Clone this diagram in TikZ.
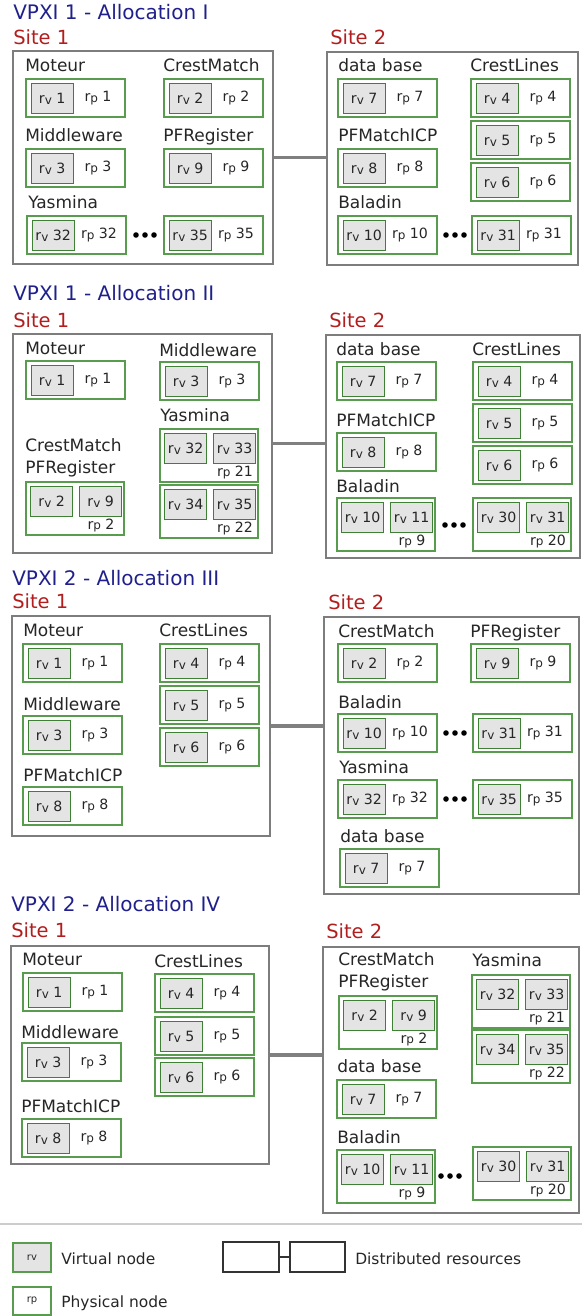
\documentclass[tikz,border=0pt]{standalone}
\usepackage{fontspec}
\setmainfont{DejaVu Sans}
\usetikzlibrary{fit}
\definecolor{ttlblue}{RGB}{32,32,140}
\definecolor{sitered}{RGB}{178,30,30}
\definecolor{labcol}{RGB}{38,38,38}
\definecolor{boxgray}{RGB}{125,125,125}
\definecolor{grpgreen}{RGB}{88,156,78}
\definecolor{rvgreen}{RGB}{62,128,52}
\definecolor{rvfill}{RGB}{228,228,228}
\definecolor{linkgray}{RGB}{128,128,128}
\newcommand\rvt{r\raisebox{-0.2ex}{\fontsize{9}{10}\selectfont v}}
\newcommand\rpt{r\raisebox{-0.1ex}{\fontsize{9}{10}\selectfont p}}
\tikzset{
  ttl/.style={anchor=base west, inner sep=0, text=ttlblue, font=\fontsize{15}{17}\selectfont},
  sitelab/.style={anchor=base west, inner sep=0, text=sitered, font=\fontsize{14.6}{17}\selectfont},
  lab/.style={anchor=base west, inner sep=0, text=labcol, font=\fontsize{12.75}{15}\selectfont},
  sitebox/.style={draw=boxgray, line width=1.1pt, inner sep=0, fill=white},
  grp/.style={draw=grpgreen, line width=1.2pt, inner sep=0, fill=white},
  rvbox/.style={draw=rvgreen, fill=rvfill, line width=1pt, anchor=north west, inner sep=0,
     minimum width=31.5pt, minimum height=22.5pt, text=labcol, font=\fontsize{10.6}{12}\selectfont},
  rptxt/.style={inner sep=0, text=labcol, font=\fontsize{10.6}{12}\selectfont},
  link/.style={draw=linkgray, line width=2.5pt},
  legtxt/.style={anchor=base west, inner sep=0, text=labcol, font=\fontsize{11.6}{14}\selectfont},
}
% #1 name, #2 x, #3 y, #4 rv, #5 rp
\newcommand\pairbox[5]{%
  \node[grp, fit={(#2,#3) (#2+99,#3+38)}] (#1) {};
  \node[rvbox] (#1v) at (#2+4.5,#3+4) {\rvt\ #4};
  \node[rptxt] (#1p) at (#2+72,#3+19) {\rpt\ #5};
}
% #1 name, #2 x, #3 y, #4 rvA, #5 rvB, #6 rp
\newcommand\dblbox[6]{%
  \node[grp, fit={(#2,#3) (#2+98,#3+53)}] (#1) {};
  \node[rvbox] (#1a) at (#2+4,#3+4) {\rvt\ #4};
  \node[rvbox] (#1b) at (#2+53,#3+4) {\rvt\ #5};
  \node[rptxt] (#1p) at (#2+75,#3+43.5) {\rpt\ #6};
}
\newcommand\tridots[2]{%
  \fill[black] (#1-9,#2) circle[radius=2.1pt];
  \fill[black] (#1,#2) circle[radius=2.1pt];
  \fill[black] (#1+9,#2) circle[radius=2.1pt];
}
\begin{document}
\begin{tikzpicture}[x=0.75pt,y=-0.75pt]
\useasboundingbox (0,0) rectangle (582,1316);
% ================= Panel I =================
\node[ttl] (t1) at (13,20) {VPXI 1 - Allocation I};
\node[sitelab] (t1s1) at (13,45) {Site 1};
\node[sitelab] (t1s2) at (330,45) {Site 2};
\node[sitebox, fit={(13,51) (273,264)}] (a1) {};
\node[sitebox, fit={(327,52) (578,265)}] (a2) {};
\draw[link] (a1.east) -- (a1.east -| a2.west);
\node[lab] (a1l1) at (25,72) {Moteur};
\node[lab] (a1l2) at (163,72) {CrestMatch};
\node[lab] (a1l3) at (25,142) {Middleware};
\node[lab] (a1l4) at (163,142) {PFRegister};
\node[lab] (a1l5) at (28,209) {Yasmina};
\pairbox{a1p1}{26}{79}{1}{1}
\pairbox{a1p2}{164}{79}{2}{2}
\pairbox{a1p3}{26}{149}{3}{3}
\pairbox{a1p4}{164}{149}{9}{9}
\pairbox{a1p5}{27}{216}{32}{32}
\pairbox{a1p6}{164}{216}{35}{35}
\tridots{145}{235}
\node[lab] (a2l1) at (338,72) {data base};
\node[lab] (a2l2) at (470,72) {CrestLines};
\node[lab] (a2l3) at (338,142) {PFMatchICP};
\node[lab] (a2l4) at (338,209) {Baladin};
\pairbox{a2p1}{338}{79}{7}{7}
\pairbox{a2p2}{471}{79}{4}{4}
\pairbox{a2p3}{471}{121}{5}{5}
\pairbox{a2p4}{471}{163}{6}{6}
\pairbox{a2p5}{338}{149}{8}{8}
\pairbox{a2p6}{338}{216}{10}{10}
\pairbox{a2p7}{472}{216}{31}{31}
\tridots{455}{235}
% ================= Panel II =================
\node[ttl] (t2) at (13,300) {VPXI 1 - Allocation II};
\node[sitelab] (t2s1) at (13,327) {Site 1};
\node[sitelab] (t2s2) at (329,327) {Site 2};
\node[sitebox, fit={(13,334) (272,553)}] (b1) {};
\node[sitebox, fit={(326,335) (580,558)}] (b2) {};
\draw[link] (b1.east) -- (b1.east -| b2.west);
\node[lab] (b1l1) at (25,354) {Moteur};
\node[lab] (b1l2) at (159,356) {Middleware};
\node[lab] (b1l3) at (160,421) {Yasmina};
\node[lab] (b1l4) at (25,451) {CrestMatch};
\node[lab] (b1l5) at (25,473) {PFRegister};
\pairbox{b1p1}{26}{361}{1}{1}
\pairbox{b1p2}{160}{362}{3}{3}
\dblbox{b1d1}{160}{429}{32}{33}{21}
\dblbox{b1d2}{160}{485}{34}{35}{22}
\dblbox{b1d3}{26}{482}{2}{9}{2}
\node[lab] (b2l1) at (336,355) {data base};
\node[lab] (b2l2) at (472,355) {CrestLines};
\node[lab] (b2l3) at (336,426) {PFMatchICP};
\node[lab] (b2l4) at (336,492) {Baladin};
\pairbox{b2p1}{337}{362}{7}{7}
\pairbox{b2p2}{473}{362}{4}{4}
\pairbox{b2p3}{473}{404}{5}{5}
\pairbox{b2p4}{473}{446}{6}{6}
\pairbox{b2p5}{337}{433}{8}{8}
\dblbox{b2d1}{337}{498}{10}{11}{9}
\dblbox{b2d2}{473}{498}{30}{31}{20}
\tridots{454}{525}
% ================= Panel III =================
\node[ttl] (t3) at (12,585) {VPXI 2 - Allocation III};
\node[sitelab] (t3s1) at (12,608) {Site 1};
\node[sitelab] (t3s2) at (328,609) {Site 2};
\node[sitebox, fit={(12,616) (270,836)}] (c1) {};
\node[sitebox, fit={(324,617) (579,894)}] (c2) {};
\draw[link] (c1.east) -- (c1.east -| c2.west);
\node[lab] (c1l1) at (23,636) {Moteur};
\node[lab] (c1l2) at (159,636) {CrestLines};
\node[lab] (c1l3) at (23,710) {Middleware};
\node[lab] (c1l4) at (23,781) {PFMatchICP};
\pairbox{c1p1}{23}{644}{1}{1}
\pairbox{c1p2}{23}{716}{3}{3}
\pairbox{c1p3}{23}{787}{8}{8}
\pairbox{c1p4}{160}{644}{4}{4}
\pairbox{c1p5}{160}{686}{5}{5}
\pairbox{c1p6}{160}{728}{6}{6}
\node[lab] (c2l1) at (338,637) {CrestMatch};
\node[lab] (c2l2) at (470,637) {PFRegister};
\node[lab] (c2l3) at (338,708) {Baladin};
\node[lab] (c2l4) at (339,773) {Yasmina};
\node[lab] (c2l5) at (340,842) {data base};
\pairbox{c2p1}{338}{644}{2}{2}
\pairbox{c2p2}{471}{644}{9}{9}
\pairbox{c2p3}{338}{714}{10}{10}
\pairbox{c2p4}{473}{714}{31}{31}
\tridots{455}{733}
\pairbox{c2p5}{338}{780}{32}{32}
\pairbox{c2p6}{473}{780}{35}{35}
\tridots{455}{799}
\pairbox{c2p7}{340}{849}{7}{7}
% ================= Panel IV =================
\node[ttl] (t4) at (11,911) {VPXI 2 - Allocation IV};
\node[sitelab] (t4s1) at (11,937) {Site 1};
\node[sitelab] (t4s2) at (326,938) {Site 2};
\node[sitebox, fit={(11,946) (269,1164)}] (d1) {};
\node[sitebox, fit={(323,947) (579,1213)}] (d2) {};
\draw[link] (d1.east) -- (d1.east -| d2.west);
\node[lab] (d1l1) at (22,965) {Moteur};
\node[lab] (d1l2) at (154,967) {CrestLines};
\node[lab] (d1l3) at (21,1038) {Middleware};
\node[lab] (d1l4) at (21,1112) {PFMatchICP};
\pairbox{d1p1}{23}{973}{1}{1}
\pairbox{d1p2}{22}{1043}{3}{3}
\pairbox{d1p3}{22}{1119}{8}{8}
\pairbox{d1p4}{155}{974}{4}{4}
\pairbox{d1p5}{155}{1017}{5}{5}
\pairbox{d1p6}{155}{1058}{6}{6}
\node[lab] (d2l1) at (338,965) {CrestMatch};
\node[lab] (d2l2) at (338,987) {PFRegister};
\node[lab] (d2l3) at (472,966) {Yasmina};
\node[lab] (d2l4) at (337,1072) {data base};
\node[lab] (d2l5) at (337,1143) {Baladin};
\dblbox{d2d1}{339}{996}{2}{9}{2}
\dblbox{d2d2}{472}{975}{32}{33}{21}
\dblbox{d2d3}{472}{1030}{34}{35}{22}
\pairbox{d2p1}{337}{1080}{7}{7}
\dblbox{d2d4}{337}{1150}{10}{11}{9}
\dblbox{d2d5}{473}{1147}{30}{31}{20}
\tridots{450}{1176}
% ================= Legend =================
\coordinate (sepL) at (0,1224);
\coordinate (sepR) at (582,1224);
\draw[draw=black!20, line width=1pt] (sepL) -- (sepR);
\node[draw=grpgreen, fill=rvfill, line width=1.1pt, inner sep=0, fit={(13,1243) (51,1272)}] (lgv) {};
\node[text=labcol, font=\fontsize{7.5}{9}\selectfont] (lgvt) at (lgv.center) {rv};
\node[draw=grpgreen, fill=white, line width=1.1pt, inner sep=0, fit={(13,1287) (51,1315)}] (lgp) {};
\node[text=labcol, font=\fontsize{7.5}{9}\selectfont] (lgpt) at (lgp.center) {rp};
\node[legtxt] (lgvl) at (61,1264) {Virtual node};
\node[legtxt] (lgpl) at (61,1307) {Physical node};
\node[draw=black!80, line width=0.9pt, inner sep=0, fit={(223,1242) (279,1272)}] (lgd1) {};
\node[draw=black!80, line width=0.9pt, inner sep=0, fit={(290,1242) (345,1272)}] (lgd2) {};
\draw[black!80, line width=0.9pt] (lgd1.east) -- (lgd2.west);
\node[legtxt] (lgdl) at (355,1264) {Distributed resources};
\end{tikzpicture}
\end{document}
